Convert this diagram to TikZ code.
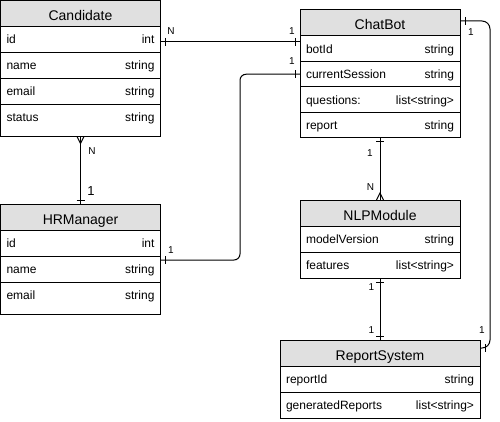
\documentclass[tikz,border=0pt]{standalone}
\usepackage{fontspec}
\setmainfont{Liberation Sans}
\usetikzlibrary{calc,positioning}
\definecolor{headgray}{HTML}{E0E0E0}
\newcommand\field[3][148pt]{\makebox[#1]{#2\hfill #3}}
\tikzset{
	header/.style={draw, fill=headgray, line width=1pt, outer sep=0pt, inner sep=0pt,
		minimum width=160pt, minimum height=26pt, text height=14pt, text depth=0pt,
		font=\fontsize{14}{16}\selectfont},
	row/.style={draw, line width=1pt, outer sep=0pt, inner xsep=6pt, inner ysep=0pt,
		minimum width=160pt, minimum height=26pt, text height=10pt, text depth=1pt,
		font=\fontsize{12}{14}\selectfont},
	lastrow/.style={row, minimum height=32pt, text depth=7pt},
	link/.style={line width=1pt, black},
	card/.style={inner sep=0pt, font=\fontsize{10}{12}\selectfont},
}

\begin{document}
\begin{tikzpicture}[x=1pt, y=-1pt]
			\useasboundingbox (0,0) rectangle (500,422);
			%%%%% ENTITIES %%%%%
			\node[header, anchor=north west] (cand) at (0.5, 0.5) {Candidate};
			\node[row, below=0pt of cand] (cand-id) {\field{id}{int}};
			\node[row, below=0pt of cand-id] (cand-name) {\field{name}{string}};
			\node[row, below=0pt of cand-name] (cand-email) {\field{email}{string}};
			\node[lastrow, below=0pt of cand-email] (cand-status) {\field{status}{string}};
			
			\node[header, anchor=north west] (hr) at (0.5, 204) {HRManager};
			\node[row, below=0pt of hr] (hr-id) {\field{id}{int}};
			\node[row, below=0pt of hr-id] (hr-name) {\field{name}{string}};
			\node[lastrow, below=0pt of hr-name] (hr-email) {\field{email}{string}};
			
			\node[header, anchor=north west] (bot) at (300, 10) {ChatBot};
			\node[row, minimum height=25.5pt, below=0pt of bot] (bot-id) {\field{botId}{string}};
			\node[row, minimum height=25.5pt, below=0pt of bot-id] (bot-session) {\field{currentSession}{string}};
			\node[row, minimum height=25.5pt, below=0pt of bot-session] (bot-quest) {\field{questions:}{list<string>}};
			\node[row, minimum height=25.5pt, below=0pt of bot-quest] (bot-report) {\field{report}{string}};
			
			\node[header, anchor=north west] (nlp) at (300, 200) {NLPModule};
			\node[row, below=0pt of nlp] (nlp-model) {\field{modelVersion}{string}};
			\node[row, below=0pt of nlp-model] (nlp-feat) {\field{features}{list<string>}};
			
			\node[header, minimum width=200pt, anchor=north west] (rep) at (280, 340) {ReportSystem};
			\node[row, minimum width=200pt, below=0pt of rep] (rep-id) {\field[188pt]{reportId}{string}};
			\node[row, minimum width=200pt, below=0pt of rep-id] (rep-gen) {\field[188pt]{generatedReports}{list<string>}};
			
			%%%%% RELATIONS %%%%%
			% Candidate - ChatBot
			\coordinate (c1) at ($(cand-id.east)+(0,2.5)$);
			\draw[link] (c1) -- (c1 -| bot-id.west);
			\draw[link] ($(c1)+(5,-4)$) -- ++(0,8);
			\draw[link] ($(c1 -| bot-id.west)+(-5,-4)$) -- ++(0,8);
			\node[card] (cb-n) at ($(c1)+(10.5,-10.5)$) {N};
			\node[card] (cb-one) at ($(c1 -| bot-id.west)+(-8,-10.5)$) {1};
			
			% HRManager - ChatBot
			\coordinate (h1) at ($(hr-name.north east)+(0,4)$);
			\draw[link, rounded corners=6pt] (h1) -| ($(bot-session.west)+(-60,0)$) -- (bot-session.west);
			\draw[link] ($(h1)+(5,-4)$) -- ++(0,8);
			\draw[link] ($(bot-session.west)+(-5,-4)$) -- ++(0,8);
			\node[card] (hb-one) at ($(h1)+(10.5,-9.5)$) {1};
			\node[card] (hb-two) at ($(bot-session.west)+(-8,-13)$) {1};
			
			% ChatBot - ReportSystem
			\coordinate (r1) at ($(bot.east)+(0,-2)$);
			\coordinate (r2) at ($(rep.east)+(0,-5)$);
			\draw[link, rounded corners=8pt] (r1) -- ++(30,0) |- (r2);
			\draw[link] ($(r1)+(5,-4)$) -- ++(0,8);
			\draw[link] ($(r2)+(5,-4)$) -- ++(0,8);
			\node[card] (br-one) at ($(r1)+(11,11)$) {1};
			\node[card] (br-two) at ($(r2)+(2,-17.5)$) {1};
			
			% Candidate - HRManager
			\draw[link] (cand-status.south) -- (hr.north);
			\draw[link] ($(cand-status.south)+(-3.5,0)$) -- ($(cand-status.south)+(0,7)$) -- ($(cand-status.south)+(3.5,0)$);
			\draw[link] ($(hr.north)+(-4,-4)$) -- ++(8,0);
			\node[card] (ch-n) at ($(cand-status.south)+(11.5,14.5)$) {N};
			\node[card, font=\fontsize{13}{15}\selectfont] (ch-one) at ($(hr.north)+(10.5,-12.5)$) {1};
			
			% ChatBot - NLPModule
			\draw[link] (bot-report.south) -- (nlp.north);
			\draw[link] ($(bot-report.south)+(-4,4)$) -- ++(8,0);
			\draw[link] ($(nlp.north)+(-3.5,0)$) -- ($(nlp.north)+(0,-7)$) -- ($(nlp.north)+(3.5,0)$);
			\node[card] (bn-one) at ($(bot-report.south)+(-10,15)$) {1};
			\node[card] (bn-n) at ($(nlp.north)+(-9.5,-12.5)$) {N};
			
			% NLPModule - ReportSystem
			\draw[link] (nlp-feat.south) -- (rep.north);
			\draw[link] ($(nlp-feat.south)+(-4,4)$) -- ++(8,0);
			\draw[link] ($(rep.north)+(-4,-4)$) -- ++(8,0);
			\node[card] (nr-one) at ($(nlp-feat.south)+(-8.5,9)$) {1};
			\node[card] (nr-two) at ($(rep.north)+(-8.5,-9.5)$) {1};
			%%%%% END %%%%%
\end{tikzpicture}
\end{document}
